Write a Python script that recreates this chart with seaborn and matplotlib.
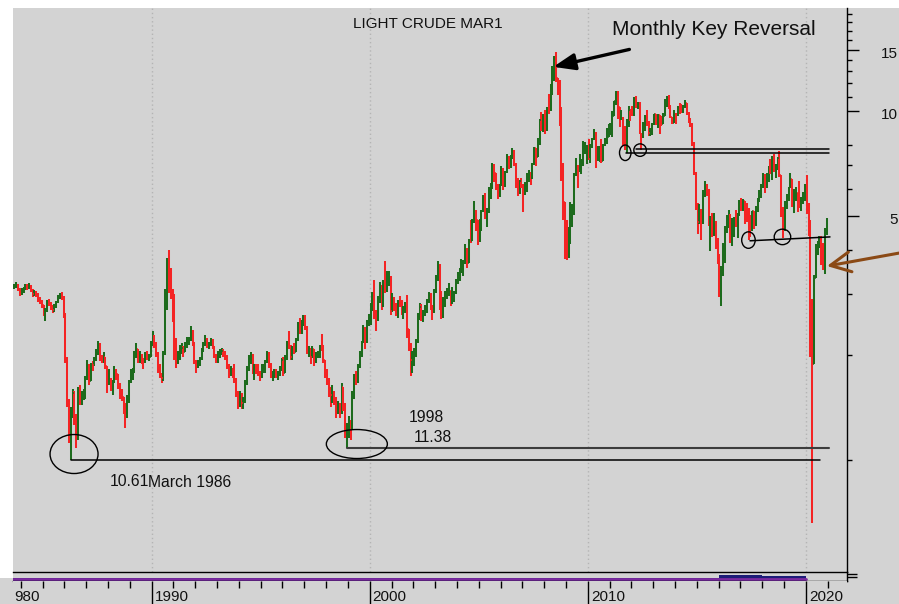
import numpy as np
import pandas as pd
import matplotlib
matplotlib.use("Agg")
import matplotlib.pyplot as plt
import seaborn as sns
from matplotlib.collections import LineCollection
from matplotlib.patches import Ellipse, Rectangle
from matplotlib.transforms import ScaledTranslation, blended_transform_factory, offset_copy

# ---------------------------------------------------------------------------
# Monthly bars, Sep 1983 .. Dec 2020 (close / high / low)
# ---------------------------------------------------------------------------
first_open = 31.4

close_80s = [
    31.5, 31.8, 31.0, 30.2,
    30.8, 31.0, 31.5, 31.2, 31.6, 30.8, 29.9, 30.3, 30.0, 29.0, 28.6, 27.8,
    26.0, 26.8, 28.4, 28.0, 27.4, 27.0, 27.6, 28.3, 29.4, 29.6, 29.2, 26.2,
    19.5, 14.6, 11.8, 13.4, 15.6, 13.0, 11.6, 15.6, 15.0, 15.4, 15.6, 17.2,
    18.6, 16.8, 18.8, 18.7, 19.4, 20.2, 20.8, 19.6, 19.5, 19.8, 18.6, 16.8,
    17.0, 16.2, 16.8, 17.8, 17.6, 16.4, 15.4, 15.2, 14.2, 13.8, 15.0, 16.8,
    17.6, 18.0, 20.2, 20.8, 19.6, 20.0, 19.4, 19.2, 20.0, 19.8, 19.8, 21.4,
]
high_80s = [
    32.0, 32.3, 32.0, 31.2,
    31.2, 31.4, 32.0, 31.9, 32.2, 31.8, 31.0, 30.8, 30.6, 30.2, 29.4, 28.8,
    27.8, 27.2, 28.8, 28.9, 28.4, 27.8, 28.0, 28.6, 29.8, 30.2, 30.4, 29.6,
    26.4, 19.8, 15.0, 14.2, 16.0, 15.8, 13.6, 16.2, 16.4, 15.8, 16.0, 17.4,
    19.4, 18.8, 19.0, 19.2, 19.8, 20.8, 22.0, 21.6, 20.0, 20.4, 19.8, 18.6,
    18.2, 17.2, 17.0, 18.6, 18.2, 17.6, 16.6, 16.0, 15.2, 14.6, 15.4, 17.0,
    18.2, 18.4, 20.6, 21.6, 20.8, 20.6, 20.2, 19.6, 20.4, 20.6, 20.2, 22.0,
]
low_80s = [
    31.0, 31.2, 30.6, 29.6,
    29.8, 30.2, 30.8, 30.8, 31.0, 30.4, 29.4, 29.6, 29.4, 28.4, 28.0, 27.2,
    25.8, 25.0, 26.6, 27.6, 27.0, 26.4, 26.6, 27.2, 28.2, 29.0, 28.8, 25.6,
    19.0, 14.2, 11.2, 10.0, 13.2, 12.6, 10.8, 11.4, 14.4, 14.4, 14.9, 15.0,
    17.0, 16.4, 16.8, 18.0, 18.6, 19.2, 20.0, 19.2, 19.0, 19.0, 18.2, 15.6,
    16.4, 15.8, 15.4, 16.6, 17.0, 16.0, 15.0, 14.8, 13.6, 12.4, 13.2, 14.6,
    16.6, 17.0, 17.8, 19.6, 19.0, 19.0, 18.8, 18.2, 19.0, 19.4, 19.2, 19.8,
]

close_90s = [
    22.6, 21.6, 20.2, 18.4, 17.6, 17.2, 20.2, 27.4, 37.8, 33.2, 29.8, 27.0,
    20.8, 19.4, 19.8, 20.8, 21.0, 20.4, 21.6, 21.8, 22.2, 23.2, 21.6, 19.2,
    18.8, 18.8, 19.6, 20.6, 21.6, 21.8, 21.4, 21.6, 21.8, 21.0, 20.0, 19.6,
    20.2, 20.4, 20.6, 20.4, 19.8, 18.6, 17.8, 18.2, 18.0, 17.0, 15.6, 14.4,
    15.4, 14.6, 14.8, 16.6, 18.2, 19.2, 19.8, 18.0, 18.4, 18.2, 17.8, 17.6,
    18.4, 18.4, 19.2, 20.0, 18.8, 17.6, 17.6, 17.8, 17.6, 17.6, 18.2, 19.4,
    17.8, 19.6, 21.4, 21.2, 19.8, 20.6, 20.4, 22.2, 24.4, 23.6, 24.8, 25.4,
    24.0, 20.6, 20.8, 19.8, 20.8, 19.6, 20.0, 20.2, 21.2, 21.0, 19.4, 17.8,
    17.0, 15.6, 15.4, 15.4, 15.0, 14.0, 14.2, 13.8, 16.2, 14.4, 11.8, 12.2,
    12.4, 12.2, 15.4, 17.4, 16.8, 18.6, 20.4, 21.8, 23.8, 21.8, 24.6, 25.2,
]
high_90s = [
    23.4, 22.8, 21.8, 20.4, 18.8, 17.8, 20.6, 31.0, 38.0, 40.0, 35.6, 31.0,
    30.0, 22.4, 20.6, 21.4, 21.6, 21.2, 21.8, 22.6, 22.6, 24.2, 23.6, 21.8,
    19.4, 19.4, 19.8, 21.0, 21.8, 22.8, 22.4, 21.8, 22.4, 22.2, 21.2, 20.2,
    20.6, 20.8, 21.0, 20.8, 20.6, 20.0, 18.8, 18.6, 18.4, 18.8, 17.2, 15.8,
    15.8, 15.6, 15.2, 17.0, 18.6, 20.0, 20.4, 20.2, 18.8, 18.8, 18.8, 18.0,
    18.8, 18.8, 19.4, 20.6, 20.4, 19.0, 18.0, 18.2, 18.2, 18.0, 18.6, 19.6,
    19.8, 20.0, 22.0, 23.4, 21.4, 21.2, 21.6, 22.4, 24.8, 25.6, 25.2, 26.0,
    26.0, 24.2, 21.2, 21.0, 21.2, 20.8, 20.4, 20.6, 21.4, 23.0, 21.4, 19.4,
    18.2, 17.2, 16.2, 16.4, 15.8, 15.2, 14.8, 14.6, 16.6, 16.2, 14.6, 12.8,
    13.4, 13.0, 15.8, 17.6, 18.0, 18.8, 20.6, 22.0, 24.4, 24.0, 25.2, 26.2,
]
low_90s = [
    21.2, 21.0, 19.8, 17.8, 17.2, 16.6, 16.8, 20.0, 27.0, 30.2, 29.0, 24.8,
    19.4, 18.4, 18.8, 19.4, 20.2, 19.8, 20.4, 21.0, 21.4, 22.0, 21.2, 18.8,
    17.8, 18.4, 18.6, 19.4, 20.4, 21.2, 21.0, 20.8, 21.2, 20.8, 19.6, 19.0,
    19.0, 19.6, 20.0, 19.8, 19.4, 18.2, 17.2, 17.4, 17.2, 16.6, 15.2, 14.0,
    14.2, 14.0, 14.0, 14.6, 16.4, 18.0, 18.8, 17.6, 17.0, 17.6, 17.4, 16.8,
    17.2, 17.8, 17.8, 19.0, 18.4, 17.2, 16.8, 17.2, 17.2, 17.0, 17.4, 18.0,
    17.4, 17.8, 19.4, 20.8, 19.4, 19.4, 20.2, 20.4, 22.0, 23.0, 23.0, 24.2,
    23.6, 20.2, 19.8, 18.8, 19.6, 18.6, 19.0, 19.6, 19.6, 20.6, 19.0, 17.2,
    16.4, 15.2, 14.2, 14.6, 14.4, 13.2, 13.6, 13.2, 13.6, 13.8, 11.6, 10.8,
    11.6, 11.4, 12.2, 15.0, 16.4, 16.6, 18.4, 19.8, 21.6, 20.8, 21.6, 24.2,
]

close_00s = [
    27.4, 29.6, 26.4, 25.4, 29.0, 31.2, 27.6, 32.4, 30.6, 32.2, 33.4, 26.8,
    28.6, 27.8, 26.4, 28.6, 28.2, 26.4, 27.0, 27.4, 23.8, 21.4, 19.4, 20.0,
    20.0, 21.8, 26.2, 27.4, 25.6, 26.6, 27.2, 28.6, 29.8, 27.4, 26.6, 30.6,
    33.2, 35.4, 29.4, 26.4, 28.2, 29.8, 30.2, 30.6, 28.4, 29.0, 30.2, 32.6,
    33.6, 35.0, 35.6, 36.8, 39.6, 36.6, 42.6, 42.4, 48.4, 51.0, 48.6, 43.4,
    47.6, 51.8, 55.4, 49.8, 51.6, 57.4, 60.4, 68.8, 66.4, 60.4, 57.8, 61.2,
    68.0, 62.0, 66.8, 71.8, 71.4, 74.0, 74.6, 70.4, 62.8, 58.8, 63.0, 61.4,
    58.6, 62.0, 65.8, 65.8, 64.2, 70.6, 78.2, 74.0, 81.6, 94.0, 88.8, 96.0,
    91.8, 101.8, 101.6, 113.4, 127.4, 140.2, 124.2, 115.8, 100.6, 68.0, 55.0, 44.6,
    41.8, 45.6, 49.6, 51.2, 66.2, 69.8, 69.4, 70.0, 70.6, 77.2, 77.6, 79.4,
]
high_00s = [
    28.2, 30.4, 32.8, 27.0, 29.6, 32.4, 31.8, 32.8, 37.2, 34.8, 34.8, 33.6,
    30.2, 29.4, 28.2, 28.8, 29.6, 28.8, 27.6, 28.4, 29.8, 23.6, 21.6, 20.6,
    21.0, 22.2, 26.4, 28.2, 28.0, 27.0, 27.8, 29.0, 30.4, 30.2, 27.8, 31.0,
    34.0, 37.2, 36.4, 30.6, 29.4, 30.6, 31.2, 32.2, 30.4, 31.4, 30.6, 33.0,
    34.6, 35.4, 37.8, 37.4, 41.6, 40.6, 43.0, 48.6, 49.2, 55.2, 52.0, 47.0,
    49.0, 52.2, 57.6, 58.2, 52.8, 60.8, 62.2, 70.8, 70.4, 66.6, 62.0, 61.8,
    69.4, 68.8, 67.4, 75.4, 74.6, 74.8, 78.4, 77.4, 71.0, 64.2, 63.6, 64.2,
    61.8, 62.6, 66.6, 67.8, 67.0, 71.0, 78.8, 77.0, 83.8, 94.6, 99.4, 98.0,
    100.6, 102.6, 111.6, 119.8, 135.0, 143.8, 147.2, 124.6, 122.4, 102.4, 71.0, 55.0,
    48.8, 46.4, 54.8, 54.2, 66.6, 73.4, 70.2, 75.4, 73.0, 82.0, 81.4, 80.0,
]
low_00s = [
    24.4, 26.8, 25.4, 23.4, 25.0, 28.2, 27.0, 27.4, 30.2, 30.4, 31.6, 26.0,
    26.6, 26.8, 25.8, 25.6, 27.4, 26.0, 25.4, 26.4, 22.4, 20.6, 17.4, 17.8,
    18.6, 19.8, 21.6, 25.2, 25.0, 24.8, 25.8, 26.4, 28.2, 27.0, 25.2, 26.4,
    30.2, 32.6, 27.0, 25.4, 25.6, 27.4, 29.0, 29.6, 27.6, 28.0, 28.4, 30.0,
    32.0, 32.6, 34.4, 33.8, 36.4, 35.6, 37.6, 42.0, 42.4, 47.8, 45.4, 41.2,
    42.2, 45.2, 51.4, 49.0, 46.4, 51.2, 56.0, 59.8, 62.6, 59.4, 56.0, 56.6,
    61.0, 59.6, 60.6, 66.6, 68.2, 68.6, 72.8, 69.4, 60.4, 57.0, 57.8, 60.2,
    51.4, 57.6, 58.8, 62.8, 61.6, 64.0, 70.0, 69.4, 73.8, 79.8, 87.4, 87.0,
    86.2, 87.8, 98.4, 100.2, 111.4, 122.2, 121.4, 111.0, 90.6, 63.2, 48.6, 37.6,
    37.4, 38.0, 41.6, 46.4, 50.4, 65.0, 60.4, 66.8, 66.2, 69.4, 75.4, 70.6,
]

close_10s = [
    72.8, 79.6, 83.4, 86.2, 74.0, 75.6, 78.8, 71.8, 79.8, 81.4, 84.2, 91.4,
    92.0, 97.0, 106.8, 113.4, 102.6, 95.4, 95.8, 88.8, 79.2, 93.2, 100.4, 99.2,
    98.6, 107.0, 103.0, 104.8, 86.6, 84.8, 88.0, 96.4, 92.2, 86.4, 88.8, 91.8,
    97.8, 92.4, 97.4, 93.6, 91.8, 96.6, 105.2, 107.6, 102.4, 96.2, 92.6, 98.4,
    97.6, 102.6, 101.6, 99.8, 102.8, 105.4, 98.2, 95.8, 91.2, 80.6, 66.2, 53.2,
    48.2, 50.0, 47.8, 59.2, 60.4, 59.4, 47.4, 49.6, 45.8, 47.0, 42.4, 38.8,
    35.0, 35.2, 40.2, 46.6, 49.6, 49.8, 42.6, 46.2, 49.0, 47.6, 50.8, 55.0,
    54.8, 55.4, 51.6, 50.6, 49.8, 47.0, 51.6, 48.2, 52.6, 56.0, 58.4, 61.6,
    64.8, 61.6, 64.8, 68.4, 67.0, 74.0, 68.8, 69.8, 73.2, 65.4, 51.0, 46.0,
    53.8, 57.4, 60.6, 63.8, 53.8, 58.4, 58.4, 55.2, 54.2, 54.4, 55.6, 61.2,
    51.6, 44.8, 20.5, 18.8, 33.2, 39.4, 40.8, 43.0, 40.2, 35.8, 45.4, 48.6,
]
high_10s = [
    83.4, 80.4, 83.8, 88.6, 87.2, 79.4, 79.6, 83.0, 80.4, 84.0, 89.2, 92.0,
    92.6, 99.8, 107.0, 114.4, 114.0, 103.0, 100.6, 96.0, 90.6, 94.6, 103.4, 101.6,
    103.6, 109.8, 110.6, 106.2, 106.4, 86.8, 92.8, 97.6, 100.4, 93.6, 89.4, 92.2,
    98.2, 98.2, 97.8, 97.0, 96.6, 99.0, 108.6, 110.4, 111.0, 104.4, 95.6, 100.4,
    98.6, 103.6, 105.2, 104.8, 104.2, 107.6, 105.8, 99.4, 95.8, 92.6, 81.6, 67.0,
    54.4, 54.2, 52.4, 59.6, 63.0, 62.0, 59.8, 50.0, 51.2, 51.2, 48.4, 43.2,
    39.0, 36.0, 42.0, 47.0, 50.4, 52.0, 50.6, 49.4, 49.8, 52.2, 51.2, 55.8,
    56.2, 56.0, 55.4, 54.4, 52.6, 50.4, 51.8, 51.0, 53.4, 56.4, 59.4, 61.8,
    66.6, 66.0, 66.6, 69.6, 72.8, 74.4, 75.2, 70.4, 73.8, 76.6, 65.8, 53.2,
    55.2, 57.8, 60.8, 66.6, 63.6, 59.8, 60.8, 58.2, 63.2, 56.6, 58.6, 61.8,
    65.4, 54.6, 48.6, 29.0, 34.0, 41.6, 42.4, 43.8, 43.8, 41.8, 46.2, 49.4,
]
low_10s = [
    72.4, 71.2, 78.4, 82.6, 68.8, 71.8, 71.6, 70.8, 72.4, 79.2, 80.6, 84.8,
    85.2, 84.2, 96.8, 104.0, 95.0, 90.2, 94.2, 79.2, 77.2, 75.6, 89.8, 93.4,
    96.6, 96.8, 102.2, 101.4, 86.2, 77.6, 83.6, 87.6, 90.4, 84.8, 84.6, 85.6,
    91.4, 91.2, 89.6, 86.2, 90.6, 91.6, 96.6, 102.8, 101.6, 95.4, 92.0, 92.4,
    91.6, 96.8, 98.4, 98.6, 98.8, 101.8, 97.2, 92.6, 90.2, 79.2, 65.6, 52.2,
    44.4, 47.6, 42.8, 47.4, 56.8, 57.2, 46.8, 39.6, 43.6, 43.8, 40.2, 36.4,
    29.4, 27.6, 33.8, 36.6, 44.8, 46.2, 42.0, 41.0, 43.6, 46.6, 43.4, 50.0,
    51.6, 51.8, 47.4, 48.2, 42.8, 43.6, 45.4, 46.0, 47.0, 51.4, 54.8, 56.4,
    60.2, 58.2, 60.4, 62.8, 66.2, 63.6, 67.0, 64.4, 67.6, 64.8, 49.6, 43.4,
    45.4, 52.4, 55.4, 60.2, 53.2, 51.2, 55.2, 51.4, 52.6, 51.6, 54.2, 55.4,
    50.6, 44.0, 19.8, 6.6, 20.6, 33.6, 38.8, 40.4, 36.2, 35.0, 34.2, 44.2,
]

# volume strip (yearly level) and open-interest line
vol_years = [1983, 1984, 1985, 1986, 1987, 1988, 1989, 1990, 1991, 1992,
             1993, 1994, 1995, 1996, 1997, 1998, 1999, 2000, 2001, 2002,
             2003, 2004, 2005, 2006, 2007, 2008, 2009, 2010, 2011, 2012,
             2013, 2014, 2015, 2016, 2017, 2018, 2019, 2020]
vol_level = [3.6, 3.6, 3.6, 3.6, 3.6, 3.6, 3.6, 3.6, 3.6, 3.6,
             3.6, 3.6, 3.6, 3.6, 3.6, 3.6, 3.6, 3.6, 3.6, 3.6,
             3.6, 3.6, 3.6, 3.6, 3.6, 3.6, 3.6, 3.6, 3.6, 3.6,
             3.6, 3.6, 3.8, 6.2, 6.4, 6.0, 5.6, 7.0]
oi_level = [2.2, 2.2, 2.2, 2.2, 2.2, 2.2, 2.2, 2.2, 2.2, 2.2,
            2.2, 2.2, 2.2, 2.2, 2.2, 2.2, 2.2, 2.2, 2.2, 2.2,
            2.2, 2.2, 2.2, 2.2, 2.2, 2.2, 2.2, 2.2, 2.2, 2.2,
            2.2, 2.2, 2.2, 2.2, 2.2, 2.2, 2.2, 2.2]

# right price scale: the labels show as "15", "10", "5" at the cropped edge
right_major = [50, 100, 150]
right_labels = ["5", "10", "15"]
right_minor = [10, 20, 30, 40, 60, 70, 80, 110, 120, 130, 140, 160, 170, 180, 190]
decades = [1990, 2000, 2010, 2020]

# ---------------------------------------------------------------------------
BG = "#d3d3d3"
RED = "#f42424"
GREEN = "#1d6b1d"

sns.set_style("white")
plt.rcParams["font.family"] = ["Liberation Sans", "DejaVu Sans"]

W, H = 899, 604
fig = plt.figure(figsize=(W / 100, H / 100), dpi=100, facecolor=BG)


def box(x0, y0, x1, y1):
    return [x0 / W, 1 - y1 / H, (x1 - x0) / W, (y1 - y0) / H]


# white margins top and left
fig.add_artist(Rectangle((0, 1 - 8 / H), 1, 8 / H, transform=fig.transFigure,
                         facecolor="white", edgecolor="none", zorder=-1))
fig.add_artist(Rectangle((0, 1 - 578 / H), 13 / W, 578 / H, transform=fig.transFigure,
                         facecolor="white", edgecolor="none", zorder=-1))

ax = fig.add_axes(box(13, 8, 847, 572))
axv = fig.add_axes(box(13, 572, 847, 581))
axb = fig.add_axes(box(13, 581, 847, 604))

XMIN, XMAX = 1983.64, 2021.89

# --- price bars -------------------------------------------------------------
close = close_80s + close_90s + close_00s + close_10s
high = high_80s + high_90s + high_00s + high_10s
low = low_80s + low_90s + low_00s + low_10s
months = pd.date_range("1983-09-01", periods=len(close), freq="MS")
df = pd.DataFrame({"t": months.year + (months.month - 0.5) / 12,
                   "close": close, "high": high, "low": low})
df["open"] = df["close"].shift(1).fillna(first_open)
df["top"] = df[["high", "open", "close"]].max(axis=1)
df["bot"] = df[["low", "open", "close"]].min(axis=1)
cols = np.where(df["close"] >= df["open"], GREEN, RED)

segs = [[(t, b), (t, tp)] for t, b, tp in zip(df["t"], df["bot"], df["top"])]
ax.add_collection(LineCollection(segs, colors=cols, linewidths=1.45, zorder=2))
ax.hlines(df["open"], df["t"] - 0.042, df["t"], colors=cols, lw=1.1, zorder=2)
ax.hlines(df["close"], df["t"], df["t"] + 0.042, colors=cols, lw=1.1, zorder=2)

ax.set_yscale("log")
ax.set_xlim(XMIN, XMAX)
ax.set_ylim(4.78, 197.4)
ax.set_facecolor(BG)
for s in ["left", "top", "bottom"]:
    ax.spines[s].set_visible(False)
ax.spines["right"].set_color("black")
ax.spines["right"].set_linewidth(1.0)

ax.set_xticks(decades)
ax.tick_params(axis="x", length=0, labelbottom=False)
ax.grid(axis="x", color="#b4b4b4", ls=(0, (1, 2)), lw=1.0)
ax.grid(axis="y", visible=False)

ax.yaxis.tick_right()
ax.set_yticks(right_major)
ax.set_yticks(right_minor, minor=True)
ax.tick_params(axis="y", which="major", length=8.6, width=1.0, color="black",
               direction="out", labelright=False, labelleft=False)
ax.tick_params(axis="y", which="minor", length=3.6, width=1.0, color="black",
               direction="out", labelright=False, labelleft=False)
ytr = offset_copy(blended_transform_factory(ax.transAxes, ax.transData), fig,
                  x=51, y=-2.5, units="dots")
for v, lab in zip(right_major, right_labels):
    ax.text(1.0, v, lab, transform=ytr, ha="right", va="center_baseline",
            fontsize=11, color="#111111", clip_on=False)

# --- annotations -------------------------------------------------------------
ax.text(1999.23, 172.5, "LIGHT CRUDE MAR1", fontsize=11, color="#111111",
        ha="left", va="baseline")
ax.text(2011.11, 165.1, "Monthly Key Reversal", fontsize=15, color="#111111",
        ha="left", va="baseline")
ax.text(2001.80, 12.88, "1998", fontsize=11.3, color="#111111", va="baseline")
ax.text(2002.0, 11.29, "11.38", fontsize=11.3, color="#111111", va="baseline")
ax.text(1988.10, 8.43, "10.61", fontsize=11.3, color="#111111", va="baseline")
ax.text(1989.83, 8.37, "March 1986", fontsize=11.3, color="#111111", va="baseline")

# support / resistance lines
ax.plot([1986.30, 2020.66], [10.0, 10.0], color="black", lw=1.1, zorder=3)
ax.plot([1998.96, 2021.07], [10.85, 10.85], color="#3c3c3c", lw=1.5, zorder=3)
ax.plot([2012.22, 2021.07], [77.7, 77.7], color="black", lw=1.1, zorder=3)
ax.plot([2011.76, 2021.07], [75.65, 75.65], color="black", lw=1.1, zorder=3)
ax.plot([2017.44, 2021.11], [42.5, 43.6], color="black", lw=1.1, zorder=3)


def ring(t, p, w_px, h_px):
    tr = fig.dpi_scale_trans + ScaledTranslation(t, p, ax.transData)
    ax.add_patch(Ellipse((0, 0), w_px / fig.dpi, h_px / fig.dpi, transform=tr,
                         fill=False, ec="black", lw=1.0, zorder=4))


ring(1986.44, 10.41, 48, 39)
ring(1999.41, 11.12, 61, 29)
ring(2011.72, 75.95, 11.5, 15.5)
ring(2012.40, 77.3, 12.5, 12.5)
ring(2017.37, 42.7, 13.5, 16.5)
ring(2018.93, 43.6, 16.5, 15.5)

ax.annotate("", xy=(2008.42, 133.9), xytext=(2011.91, 150.2),
            arrowprops=dict(arrowstyle="-|>,head_length=1.3,head_width=0.5",
                            color="black", lw=2.4, mutation_scale=10,
                            shrinkA=0, shrinkB=0),
            annotation_clip=False, zorder=5)
ax.annotate("", xy=(2020.97, 35.97), xytext=(2024.29, 39.2),
            arrowprops=dict(arrowstyle="->,head_length=1.45,head_width=0.72",
                            color="#8b4a16", lw=2.2, mutation_scale=10,
                            shrinkA=0, shrinkB=0),
            annotation_clip=False, zorder=5)

# --- volume strip ------------------------------------------------------------
axv.set_facecolor(BG)
axv.fill_between(vol_years, 0, vol_level, step="post", color="#1c1c78", lw=0)
sns.lineplot(x=vol_years, y=oi_level, ax=axv, color="#7b2a9e", lw=2.0)
axv.set_xlim(XMIN, XMAX)
axv.set_ylim(0, 10)
axv.spines["left"].set_visible(False)
for s in ["top", "bottom", "right"]:
    axv.spines[s].set_color("black")
    axv.spines[s].set_linewidth(1.0)
axv.set_xticks([])
axv.yaxis.tick_right()
axv.set_yticks([4.4, 7.8])
axv.tick_params(axis="y", length=7.2, width=1.0, color="black", direction="out",
                labelright=False)

# --- year axis band ----------------------------------------------------------
axb.set_facecolor(BG)
axb.set_xlim(XMIN, XMAX)
axb.set_ylim(0, 1)
for s in axb.spines.values():
    s.set_visible(False)
axb.xaxis.tick_top()
axb.set_xticks(decades)
axb.set_xticks(list(range(1984, 2022)), minor=True)
axb.set_yticks([])
axb.tick_params(axis="x", which="major", direction="in", length=16.6, width=1.0,
                color="black", labeltop=False, labelbottom=False)
axb.tick_params(axis="x", which="minor", direction="in", length=4.7, width=1.0,
                color="black")
xtr = offset_copy(blended_transform_factory(axb.transData, axb.transAxes), fig,
                  x=3, units="dots")
for yr in decades:
    axb.text(yr, 0.01, str(yr), transform=xtr, fontsize=11, color="#111111",
             ha="left", va="bottom")
# left-most year label, cropped in the reference
axb.text(0, 0.01, "980", transform=offset_copy(axb.transAxes, fig, x=1.5, units="dots"),
         fontsize=11, color="#111111", ha="left", va="bottom")

fig.savefig("out.png", dpi=100, facecolor=fig.get_facecolor())
